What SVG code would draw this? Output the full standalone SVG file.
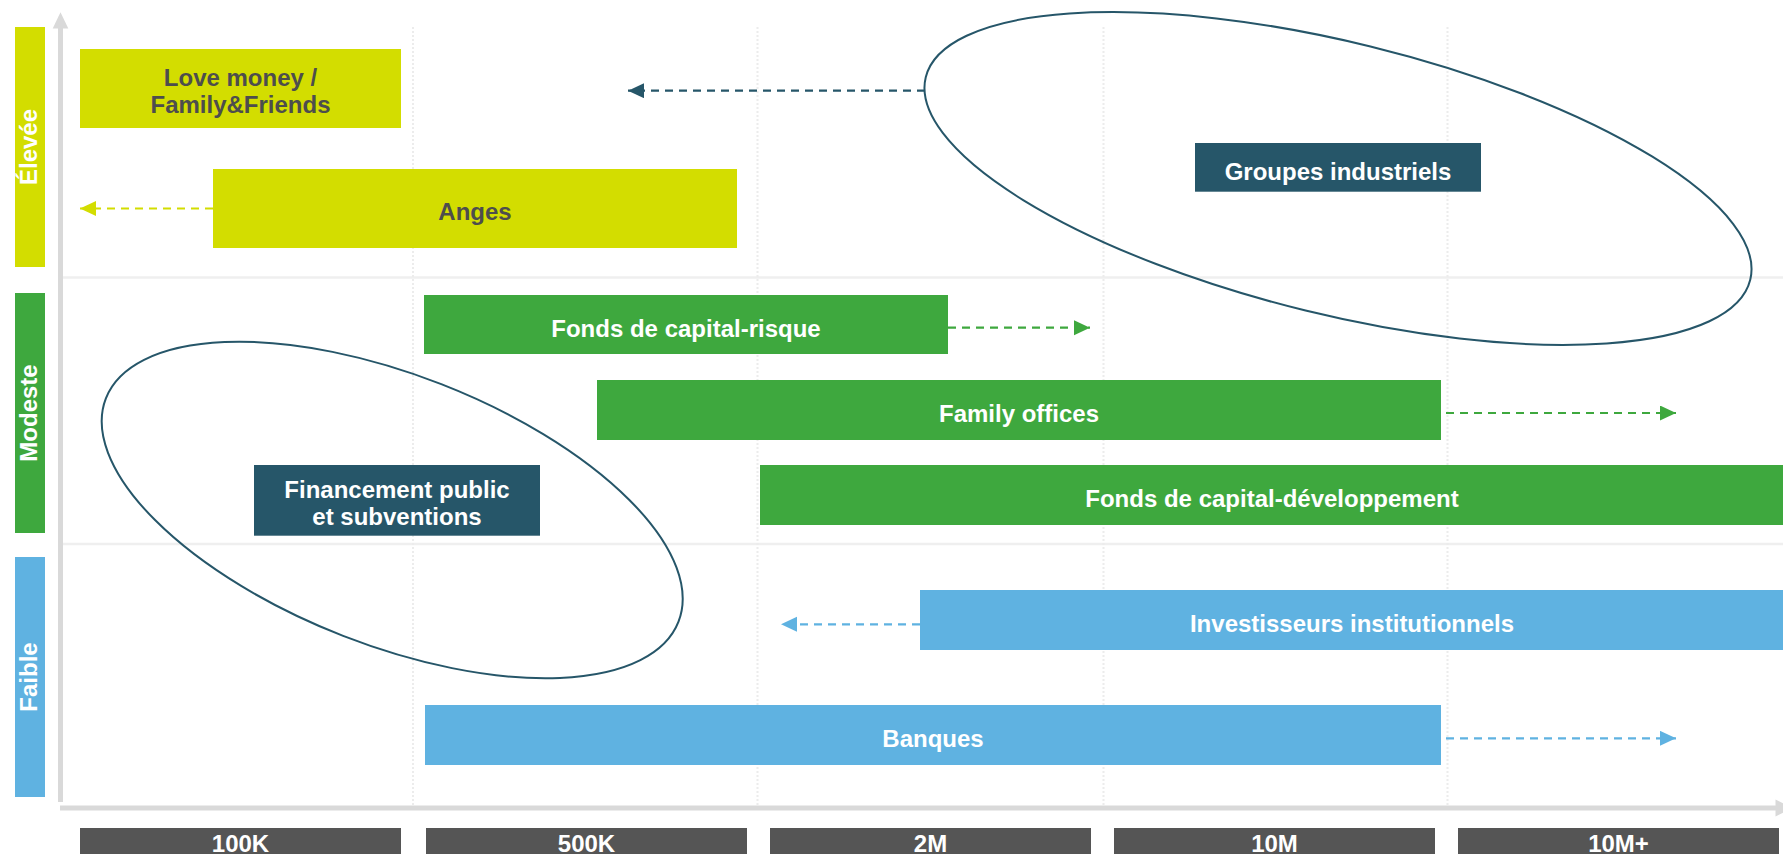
<svg xmlns="http://www.w3.org/2000/svg" width="1783" height="854" viewBox="0 0 1783 854">
<defs>
<style>
.t{font-family:"Liberation Sans",Arial,sans-serif;font-weight:700;font-size:24px;text-anchor:middle;fill:#fff}
.dk{fill:#4d4d4d}
.yl{fill:#d3dd00}
.gr{fill:#3ea83e}
.bl{fill:#5fb2e1}
.tl{fill:#265669}
.gy{fill:#555555}
.grid{stroke:#efefef;stroke-width:2.5;fill:none}
.vgrid{stroke:#ececec;stroke-width:2;stroke-dasharray:2 2;fill:none}
.axis{stroke:#d9d9d9;stroke-width:5;fill:none}
.ell{stroke:#265669;stroke-width:2;fill:none}
.dash{stroke-width:2.2;stroke-dasharray:8 6;fill:none}
</style>
<marker id="mY" markerUnits="userSpaceOnUse" markerWidth="16" markerHeight="16" refX="16" refY="7.5" orient="auto"><path d="M0,0 L16,7.5 L0,15 z" fill="#d3dd00"/></marker>
<marker id="mT" markerUnits="userSpaceOnUse" markerWidth="16" markerHeight="16" refX="16" refY="7.5" orient="auto"><path d="M0,0 L16,7.5 L0,15 z" fill="#265669"/></marker>
<marker id="mG" markerUnits="userSpaceOnUse" markerWidth="16" markerHeight="16" refX="16" refY="7.5" orient="auto"><path d="M0,0 L16,7.5 L0,15 z" fill="#3ea83e"/></marker>
<marker id="mB" markerUnits="userSpaceOnUse" markerWidth="16" markerHeight="16" refX="16" refY="7.5" orient="auto"><path d="M0,0 L16,7.5 L0,15 z" fill="#5fb2e1"/></marker>
</defs>
<rect width="1783" height="854" fill="#fff"/>

<g id="grid">
<line class="grid" x1="63" y1="277.5" x2="1783" y2="277.5"/>
<line class="grid" x1="63" y1="544" x2="1783" y2="544"/>
<line class="vgrid" x1="413" y1="27" x2="413" y2="805"/>
<line class="vgrid" x1="757.5" y1="27" x2="757.5" y2="805"/>
<line class="vgrid" x1="1103.5" y1="27" x2="1103.5" y2="805"/>
<line class="vgrid" x1="1447.5" y1="27" x2="1447.5" y2="805"/>
</g>

<g id="axes">
<line class="axis" x1="60.5" y1="28" x2="60.5" y2="802"/>
<path d="M52.7,28.5 L60.5,12.3 L68.3,28.5 z" fill="#d9d9d9"/>
<line class="axis" x1="60" y1="808" x2="1776" y2="808"/>
<path d="M1775.5,799.5 L1792,808 L1775.5,816.5 z" fill="#d9d9d9"/>
</g>

<g id="ellipses">
<ellipse id="ellipse-industriels" class="ell" cx="1338" cy="178.5" rx="424.5" ry="136" transform="rotate(13.8 1338 178.5)"/>
<ellipse id="ellipse-public" class="ell" cx="392.2" cy="510" rx="307.3" ry="135.1" transform="rotate(21.3 392.2 510)"/>
</g>

<g id="connectors">
<line class="dash" stroke="#d3dd00" x1="213" y1="208.5" x2="80" y2="208.5" marker-end="url(#mY)"/>
<line class="dash" stroke="#265669" x1="925" y1="90.7" x2="628" y2="90.7" marker-end="url(#mT)"/>
<line class="dash" stroke="#3ea83e" x1="948" y1="327.7" x2="1090" y2="327.7" marker-end="url(#mG)"/>
<line class="dash" stroke="#3ea83e" x1="1446" y1="413" x2="1676" y2="413" marker-end="url(#mG)"/>
<line class="dash" stroke="#5fb2e1" x1="920" y1="624.3" x2="781" y2="624.3" marker-end="url(#mB)"/>
<line class="dash" stroke="#5fb2e1" x1="1446" y1="738.3" x2="1676" y2="738.3" marker-end="url(#mB)"/>
</g>

<g id="label-elevee">
<rect class="yl" x="15" y="27" width="30" height="240"/>
<text class="t" x="36.5" y="147" transform="rotate(-90 36.5 147)">Élevée</text>
</g>
<g id="label-modeste">
<rect class="gr" x="15" y="293" width="30" height="240"/>
<text class="t" x="36.5" y="413" transform="rotate(-90 36.5 413)">Modeste</text>
</g>
<g id="label-faible">
<rect class="bl" x="15" y="557" width="30" height="240"/>
<text class="t" x="36.5" y="677" transform="rotate(-90 36.5 677)">Faible</text>
</g>

<g id="love-money">
<rect class="yl" x="80" y="49" width="321" height="79"/>
<text class="t dk" x="240.5" y="86">Love money /</text>
<text class="t dk" x="240.5" y="112.5">Family&amp;Friends</text>
</g>
<g id="anges">
<rect class="yl" x="213" y="169" width="524" height="79"/>
<text class="t dk" x="475" y="220">Anges</text>
</g>
<g id="groupes-industriels">
<rect class="tl" x="1195" y="143" width="286" height="48.7"/>
<text class="t" x="1338" y="180">Groupes industriels</text>
</g>
<g id="capital-risque">
<rect class="gr" x="424" y="295" width="524" height="59"/>
<text class="t" x="686" y="337">Fonds de capital-risque</text>
</g>
<g id="family-offices">
<rect class="gr" x="597" y="380" width="844" height="60"/>
<text class="t" x="1019" y="421.5">Family offices</text>
</g>
<g id="financement-public">
<rect class="tl" x="254" y="465" width="286" height="70.7"/>
<text class="t" x="397" y="497.7">Financement public</text>
<text class="t" x="397" y="525">et subventions</text>
</g>
<g id="capital-developpement">
<rect class="gr" x="760" y="465" width="1023" height="60"/>
<text class="t" x="1272" y="506.5">Fonds de capital-développement</text>
</g>
<g id="investisseurs-institutionnels">
<rect class="bl" x="920" y="590" width="863" height="60"/>
<text class="t" x="1352" y="631.5">Investisseurs institutionnels</text>
</g>
<g id="banques">
<rect class="bl" x="425" y="705" width="1016" height="60"/>
<text class="t" x="933" y="747">Banques</text>
</g>

<g id="x-100k"><rect class="gy" x="80" y="828" width="321" height="40"/><text class="t" x="240.5" y="851.5">100K</text></g>
<g id="x-500k"><rect class="gy" x="426" y="828" width="321" height="40"/><text class="t" x="586.5" y="851.5">500K</text></g>
<g id="x-2m"><rect class="gy" x="770" y="828" width="321" height="40"/><text class="t" x="930.5" y="851.5">2M</text></g>
<g id="x-10m"><rect class="gy" x="1114" y="828" width="321" height="40"/><text class="t" x="1274.5" y="851.5">10M</text></g>
<g id="x-10mplus"><rect class="gy" x="1458" y="828" width="321" height="40"/><text class="t" x="1618.5" y="851.5">10M+</text></g>
</svg>
